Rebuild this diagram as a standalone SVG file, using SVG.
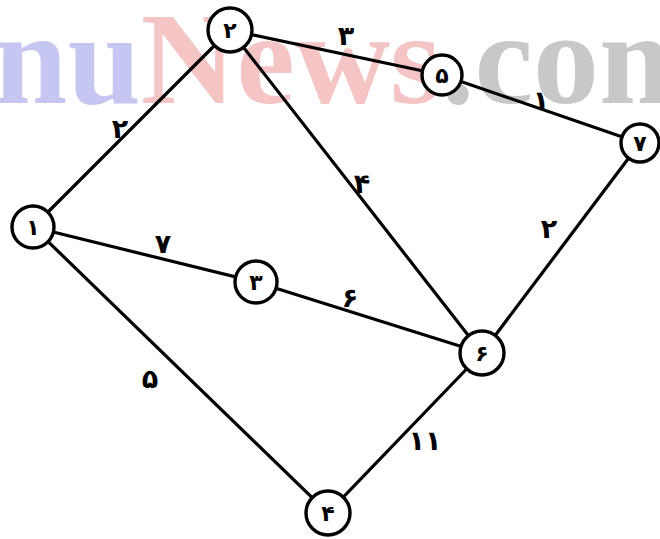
<svg xmlns="http://www.w3.org/2000/svg" width="660" height="539" viewBox="0 0 660 539">
<style>
.wm{font-family:"Liberation Serif",serif;font-size:132px;font-weight:bold}
.edge{stroke:#000;stroke-width:3.2;stroke-linecap:round;fill:none}
.node circle{fill:#fff;stroke:#000;stroke-width:3.4}
.node text{font-family:"DejaVu Sans",sans-serif;font-size:22px;font-weight:bold;text-anchor:middle;dominant-baseline:central;fill:#000}
.lbl{font-family:"DejaVu Sans",sans-serif;font-size:27px;font-weight:bold;text-anchor:middle;dominant-baseline:central;fill:#000}
</style>
<rect width="660" height="539" fill="#fff"/>
<text class="wm" x="-6" y="103"><tspan fill="#c6c6f2">nu</tspan><tspan fill="#f5c4c4">News</tspan><tspan fill="#c8c8c8">.com</tspan></text>
<g id="connectors">
<line class="edge" x1="33" y1="227" x2="230" y2="30"/>
<line class="edge" x1="33" y1="227" x2="256" y2="282"/>
<line class="edge" x1="33" y1="227" x2="328" y2="513"/>
<line class="edge" x1="230" y1="30" x2="442" y2="75"/>
<line class="edge" x1="230" y1="30" x2="482" y2="353"/>
<line class="edge" x1="442" y1="75" x2="640" y2="143"/>
<line class="edge" x1="256" y1="282" x2="482" y2="353"/>
<line class="edge" x1="640" y1="143" x2="482" y2="353"/>
<line class="edge" x1="328" y1="513" x2="482" y2="353"/>
<text class="lbl" x="120" y="128">۲</text>
<text class="lbl" x="346" y="35">۳</text>
<text class="lbl" x="541" y="100">۱</text>
<text class="lbl" x="362" y="183">۴</text>
<text class="lbl" x="163" y="243">۷</text>
<text class="lbl" x="350" y="297">۶</text>
<text class="lbl" x="549" y="228">۲</text>
<text class="lbl" x="150" y="378">۵</text>
<text class="lbl" x="425" y="440">۱۱</text>
</g>
<g id="n1" class="node"><circle cx="33" cy="227" r="21"/><text x="33" y="227">۱</text></g>
<g id="n2" class="node"><circle cx="230" cy="30" r="22"/><text x="230" y="30">۲</text></g>
<g id="n5" class="node"><circle cx="442" cy="75" r="20"/><text x="442" y="75">۵</text></g>
<g id="n7" class="node"><circle cx="640" cy="143" r="19"/><text x="640" y="143">۷</text></g>
<g id="n3" class="node"><circle cx="256" cy="282" r="21"/><text x="256" y="282">۳</text></g>
<g id="n6" class="node"><circle cx="482" cy="353" r="22"/><text x="482" y="353">۶</text></g>
<g id="n4" class="node"><circle cx="328" cy="513" r="22"/><text x="328" y="513">۴</text></g>
</svg>
